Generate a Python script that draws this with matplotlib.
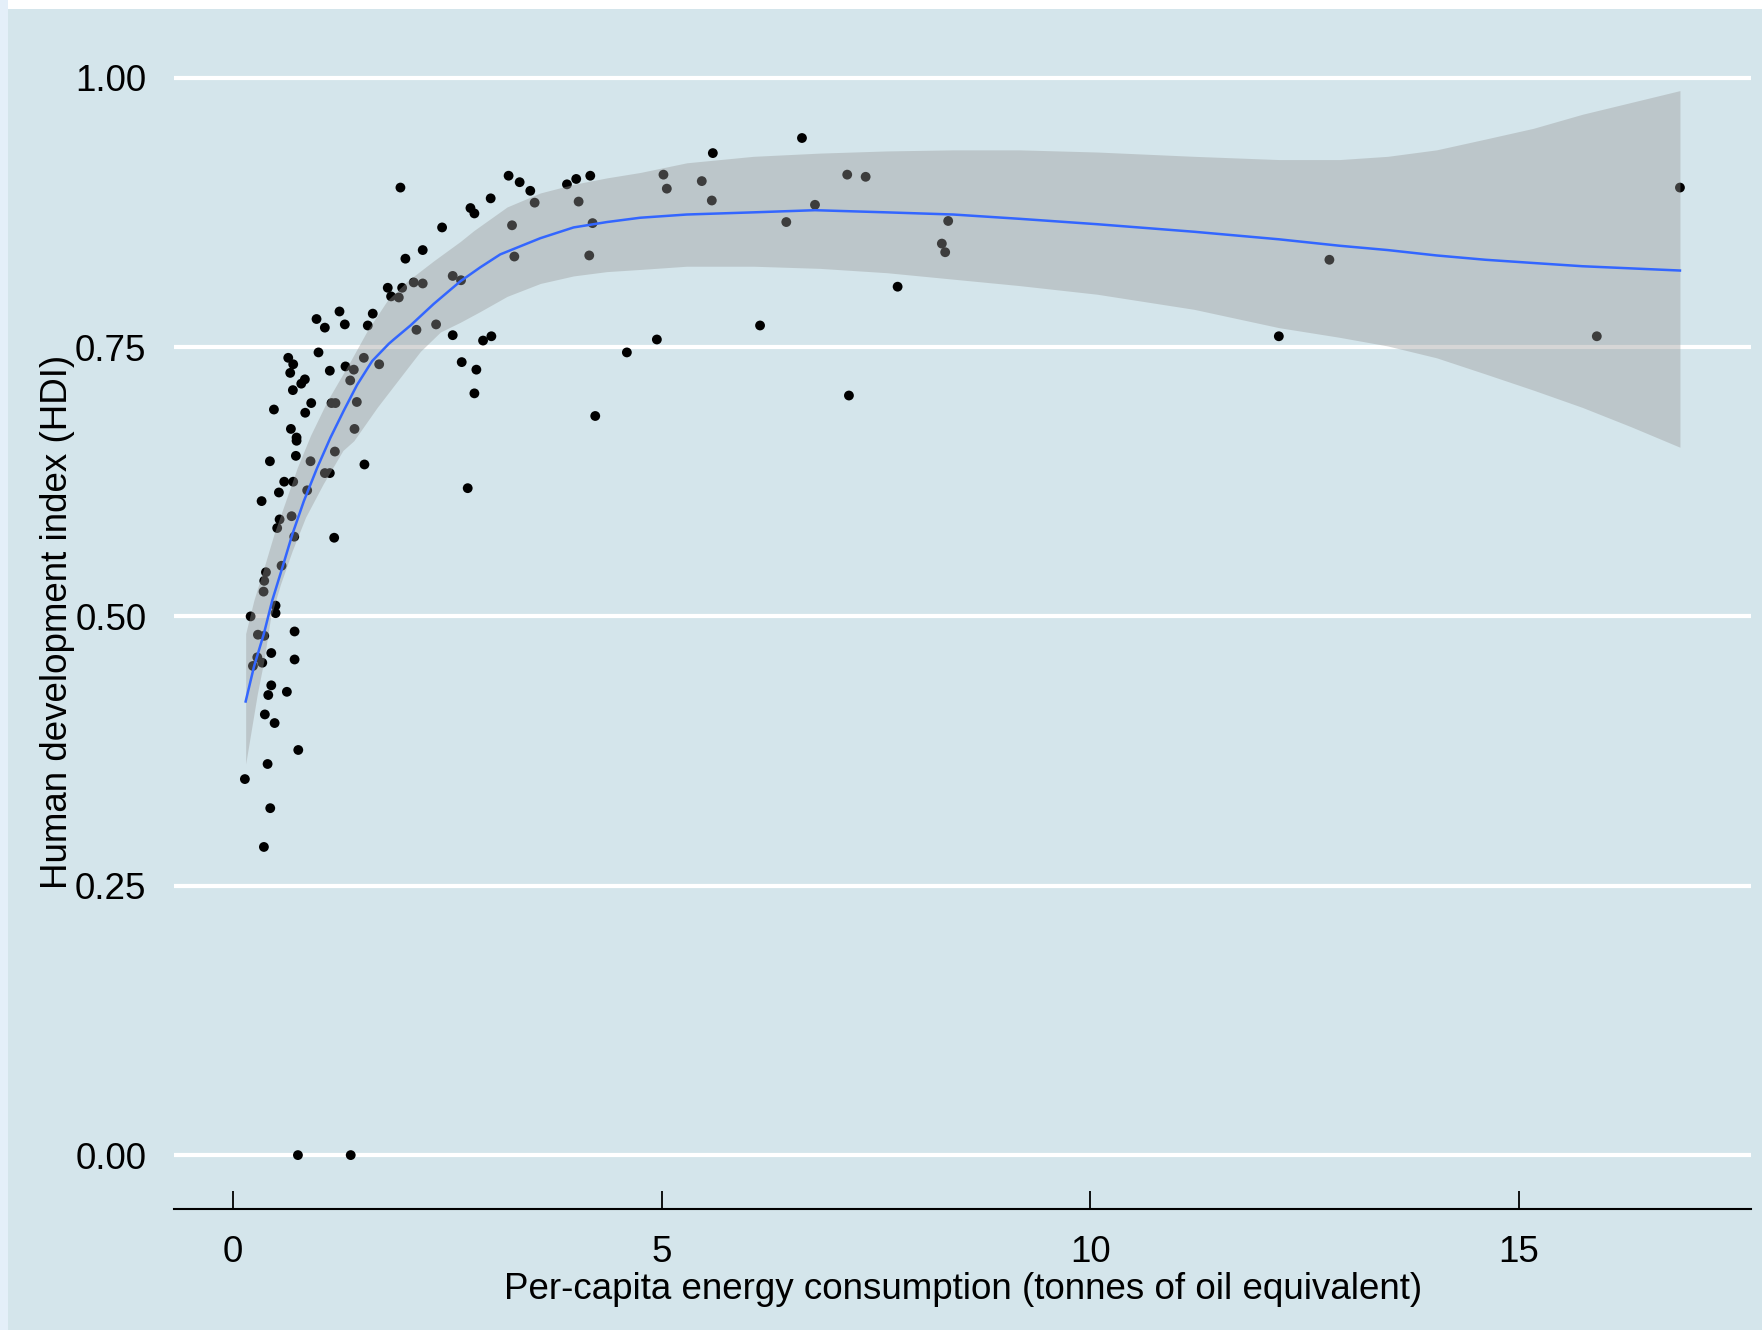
import numpy as np
import matplotlib
matplotlib.use("Agg")
import matplotlib.pyplot as plt
from matplotlib.patches import Rectangle

plt.rcParams['font.family'] = ['Liberation Sans', 'DejaVu Sans']

# --- data (per country) ---
energy = [
    1.951, 2.768, 2.814, 2.437, 2.211, 2.009, 2.106, 2.211, 2.561, 2.658,
    1.803, 1.971, 1.842, 1.932, 1.628, 1.240, 0.972, 1.069, 1.302, 1.570,
    2.138, 2.367, 2.561, 0.995, 0.642, 0.700, 0.665, 0.794, 0.836, 0.696,
    1.127, 1.310, 1.407, 1.524, 1.703, 1.365, 1.442, 1.147, 1.193, 0.910,
    2.666, 2.837, 2.814, 2.915, 3.012, 0.475, 0.840,
    0.673, 0.739, 0.739, 1.415, 1.186, 0.731, 0.428, 0.902, 1.531, 1.069,
    1.127, 0.595, 0.700, 0.863, 0.533, 0.331, 2.736, 0.681, 0.541, 0.513,
    0.712, 1.178, 0.564, 0.382, 0.362, 0.354, 0.494, 0.494, 0.203, 0.288,
    0.362, 0.716, 0.444, 0.281, 0.716,
    0.230, 0.339, 0.444, 0.409, 0.626, 0.369, 0.483, 0.759, 0.401, 0.136,
    0.432, 0.358,
    0.755, 1.371,
    5.596, 3.213, 3.342, 3.466, 3.004, 3.894, 4.002, 4.166, 3.517, 4.030,
    5.020, 5.059, 5.467, 5.584, 3.253, 4.193, 3.280, 4.154, 6.147, 4.943,
    6.636, 7.164, 7.379, 6.788, 6.453, 8.342, 8.268, 8.307, 7.752, 7.184,
    4.593, 4.224,
    16.88, 12.79, 12.20, 15.91,
]
hdi = [
    0.898, 0.879, 0.874, 0.861, 0.840, 0.832, 0.810, 0.809, 0.816, 0.812,
    0.805, 0.805, 0.797, 0.796, 0.781, 0.783, 0.776, 0.768, 0.771, 0.770,
    0.766, 0.771, 0.761, 0.745, 0.740, 0.734, 0.726, 0.716, 0.720, 0.710,
    0.728, 0.732, 0.729, 0.740, 0.734, 0.719, 0.699, 0.698, 0.698, 0.698,
    0.736, 0.729, 0.707, 0.756, 0.760, 0.692, 0.689,
    0.674, 0.666, 0.663, 0.674, 0.653, 0.649, 0.644, 0.644, 0.641, 0.633,
    0.633, 0.625, 0.625, 0.617, 0.615, 0.607, 0.619, 0.593, 0.590, 0.582,
    0.574, 0.573, 0.547, 0.541, 0.533, 0.523, 0.510, 0.503, 0.500, 0.483,
    0.482, 0.486, 0.466, 0.462, 0.460,
    0.454, 0.457, 0.436, 0.427, 0.430, 0.409, 0.401, 0.376, 0.363, 0.349,
    0.322, 0.286,
    0.000, 0.000,
    0.930, 0.909, 0.903, 0.895, 0.888, 0.901, 0.906, 0.909, 0.884, 0.885,
    0.910, 0.897, 0.904, 0.886, 0.863, 0.865, 0.834, 0.835, 0.770, 0.757,
    0.944, 0.910, 0.908, 0.882, 0.866, 0.867, 0.846, 0.838, 0.806, 0.705,
    0.745, 0.686,
    0.898, 0.831, 0.760, 0.760,
]

# loess fit and its confidence band
fit_x = [0.145, 0.241, 0.358, 0.456, 0.572, 0.689, 0.824, 0.980, 1.135, 1.290,
         1.446, 1.621, 1.815, 1.873, 2.068, 2.339, 2.650, 2.883, 3.116, 3.583,
         3.971, 4.360, 4.748, 5.292, 6.069, 6.788, 7.624, 8.40, 9.177, 10.08,
         11.21, 12.20, 12.91, 13.47, 14.04, 14.61, 15.17, 15.74, 16.31, 16.88]
fit_y = [0.421, 0.453, 0.484, 0.515, 0.545, 0.576, 0.607, 0.638, 0.666, 0.691,
         0.715, 0.737, 0.753, 0.757, 0.770, 0.790, 0.811, 0.824, 0.836, 0.851,
         0.861, 0.866, 0.870, 0.873, 0.875, 0.877, 0.875, 0.873, 0.869, 0.864,
         0.857, 0.850, 0.844, 0.840, 0.835, 0.831, 0.828, 0.825, 0.823, 0.821]

hi_x = [0.145, 0.241, 0.358, 0.474, 0.611, 0.747, 0.902, 1.097, 1.368, 1.563,
        1.796, 2.029, 2.339, 2.650, 2.806, 3.195, 3.583, 3.971, 4.360, 4.748,
        5.292, 6.069, 6.846, 7.624, 8.40, 9.177, 10.08, 11.21, 12.20, 12.91,
        13.47, 14.04, 14.61, 15.17, 15.74, 16.31, 16.88]
hi_y = [0.484, 0.515, 0.545, 0.576, 0.607, 0.638, 0.668, 0.700, 0.737, 0.765,
        0.793, 0.811, 0.830, 0.848, 0.858, 0.880, 0.893, 0.901, 0.907, 0.912,
        0.921, 0.927, 0.930, 0.932, 0.933, 0.933, 0.931, 0.927, 0.924, 0.924,
        0.927, 0.933, 0.943, 0.953, 0.966, 0.977, 0.988]

lo_x = [0.145, 0.281, 0.358, 0.436, 0.552, 0.689, 0.844, 1.050, 1.280, 1.407,
        1.680, 1.951, 2.184, 2.418, 2.650, 2.883, 3.195, 3.583, 3.971, 4.360,
        4.748, 5.292, 6.069, 6.846, 7.624, 8.40, 9.177, 10.08, 11.21, 12.20,
        12.91, 13.47, 14.04, 14.61, 15.17, 15.74, 16.31, 16.88]
lo_y = [0.363, 0.428, 0.459, 0.499, 0.530, 0.561, 0.592, 0.623, 0.654, 0.663,
        0.694, 0.722, 0.746, 0.764, 0.773, 0.783, 0.797, 0.809, 0.816, 0.820,
        0.822, 0.825, 0.825, 0.823, 0.819, 0.813, 0.807, 0.799, 0.785, 0.768,
        0.759, 0.751, 0.740, 0.725, 0.710, 0.694, 0.676, 0.657]

y_ticks = [0.0, 0.25, 0.5, 0.75, 1.0]
y_labels = ["0.00", "0.25", "0.50", "0.75", "1.00"]
x_ticks = [0, 5, 10, 15]

BG = '#d4e5eb'
FS = 26.5

fig = plt.figure(figsize=(17.62, 13.30), dpi=100, facecolor=BG)
ax = fig.add_axes([0.0988, 0.0910, 0.8950, 0.8830])
ax.set_facecolor(BG)

# screenshot edges
fig.patches.append(Rectangle((0, 1 - 9 / 1330), 1, 9 / 1330, transform=fig.transFigure,
                             facecolor='white', edgecolor='none', zorder=0))
fig.patches.append(Rectangle((0, 0), 8 / 1762, 1, transform=fig.transFigure,
                             facecolor='#e4eff9', edgecolor='none', zorder=0))

ax.scatter(energy, hdi, s=50, color='black', edgecolors='none', zorder=2)

# band: upper and lower edges on a common x grid from the read points
band_x = np.array(sorted(set(hi_x) | set(lo_x)))
band_hi = np.interp(band_x, hi_x, hi_y)
band_lo = np.interp(band_x, lo_x, lo_y)
ax.fill_between(band_x, band_lo, band_hi, color='#999999', alpha=0.4,
                linewidth=0, zorder=3)
ax.plot(fit_x, fit_y, color='#3366FF', linewidth=1.8, zorder=4)

ax.set_xlim(-0.69, 17.71)
ax.set_ylim(-0.05, 1.04)
ax.set_yticks(y_ticks)
ax.set_yticklabels(y_labels)
ax.set_xticks(x_ticks)

ax.grid(axis='y', color='white', linewidth=3)
ax.grid(axis='x', visible=False)
ax.set_axisbelow(True)

for side in ['top', 'right', 'left']:
    ax.spines[side].set_visible(False)
ax.spines['bottom'].set_linewidth(1.5)
ax.spines['bottom'].set_color('black')

ax.tick_params(axis='y', length=0, pad=20, labelsize=FS, labelcolor='black')
ax.tick_params(axis='x', direction='in', length=13, width=1.3, pad=19,
               labelsize=FS, labelcolor='black')

ax.set_xlabel('Per-capita energy consumption (tonnes of oil equivalent)',
              fontsize=FS, labelpad=1)
ax.set_ylabel('Human development index (HDI)', fontsize=FS)
ax.yaxis.set_label_coords(-0.063, 0.5)

fig.savefig('out.png', dpi=100, facecolor=BG)
